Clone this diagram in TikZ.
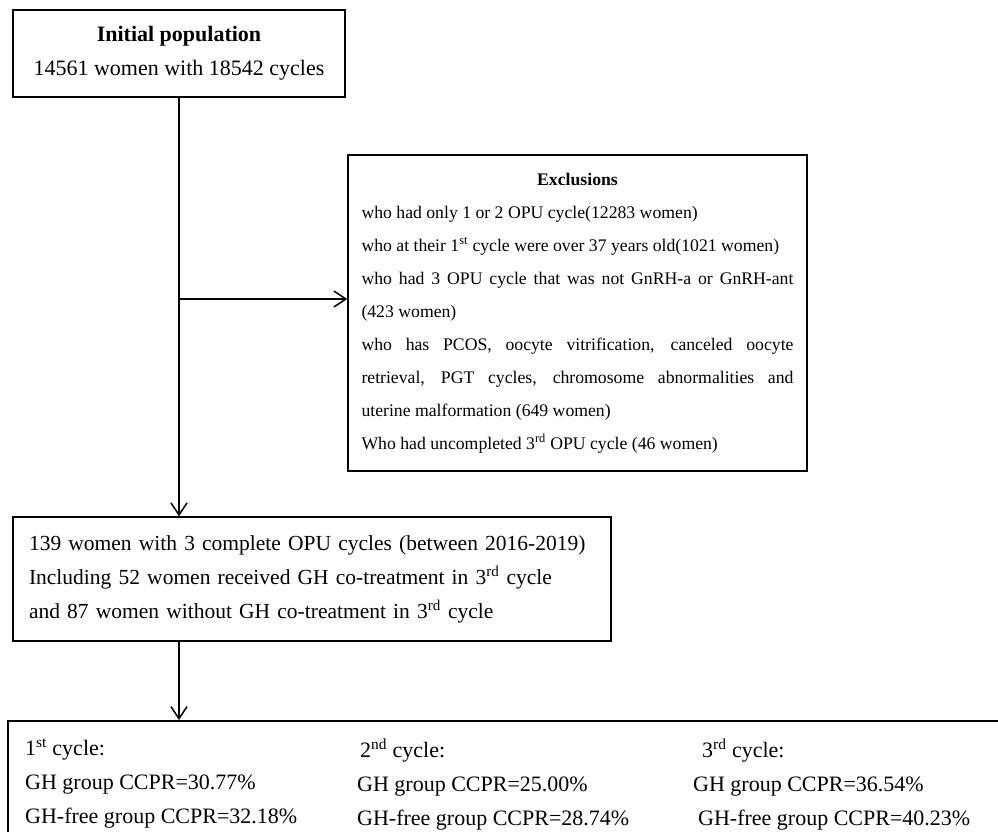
\documentclass[tikz,border=0pt]{standalone}
\usepackage{fontspec}
\setmainfont{Liberation Serif}
\usetikzlibrary{arrows.meta}
\newcommand{\bigtxt}{\fontsize{22}{34}\selectfont}
\newcommand{\midtxt}{\fontsize{21.5}{34}\selectfont}
\newcommand{\smalltxt}{\fontsize{17.7}{33}\selectfont}
\setlength{\parindent}{0pt}
\tolerance=10000
\hbadness=10000
\begin{document}
\begin{tikzpicture}[x=1pt, y=-1pt,
    box/.style={draw, line width=1.5pt, inner sep=0pt},
    arr/.style={line width=1.5pt, -{Straight Barb[length=12pt, width=16pt]}}]
\useasboundingbox (0,0) rectangle (998,831);
\clip (0,0) rectangle (998,831);
\node[box, minimum width=332pt, minimum height=87pt, align=center, font=\bigtxt] (init) at (179,53.5)
    {\textbf{Initial population}\\14561 women with 18542 cycles};
\node[box, text width=432pt, inner xsep=13.5pt, minimum height=316pt, align=justify, font=\smalltxt] (excl) at (577.5,313) {%
    {\centering\textbf{Exclusions}\par}
    who had only 1 or 2 OPU cycle(12283 women)\par
    who at their 1\textsuperscript{st} cycle were over 37 years old(1021 women)\par
    who had 3 OPU cycle that was not GnRH-a or GnRH-ant\linebreak (423 women)\par
    who has PCOS, oocyte vitrification, canceled oocyte\linebreak retrieval, PGT cycles, chromosome abnormalities and\linebreak uterine malformation (649 women)\par
    Who had uncompleted 3\textsuperscript{rd} OPU cycle (46 women)\par};
\node[box, text width=566pt, inner xsep=16pt, minimum height=124pt, align=left, font=\midtxt] (cohort) at (312,579)
    {139 women with 3 complete OPU cycles (between 2016-2019)\\
     Including 52 women received GH co-treatment in 3\textsuperscript{rd} cycle\\
     and 87 women without GH co-treatment in 3\textsuperscript{rd} cycle};
\node[box, anchor=north west, minimum width=1020pt, minimum height=150pt] (result) at (7,720) {};
\node[anchor=north west, align=left, inner sep=0pt, font=\bigtxt] (cyc1) at (25,739)
    {1\textsuperscript{st} cycle:\\GH group CCPR=30.77\%\\GH-free group CCPR=32.18\%};
\node[anchor=north west, align=left, inner sep=0pt, font=\bigtxt] (cyc2) at (357,739)
    {\hspace*{3pt}2\textsuperscript{nd} cycle:\\GH group CCPR=25.00\%\\GH-free group CCPR=28.74\%};
\node[anchor=north west, align=left, inner sep=0pt, font=\bigtxt] (cyc3) at (693,739)
    {\hspace*{9pt}3\textsuperscript{rd} cycle:\\GH group CCPR=36.54\%\\\hspace*{5pt}GH-free group CCPR=40.23\%};
\coordinate (split) at (init.south |- 0,299);
\draw[arr] (init.south) -- (init.south |- cohort.north);
\draw[arr] (split) -- (split -| excl.west);
\draw[arr] (init.south |- cohort.south) -- (init.south |- result.north);
\end{tikzpicture}
\end{document}
